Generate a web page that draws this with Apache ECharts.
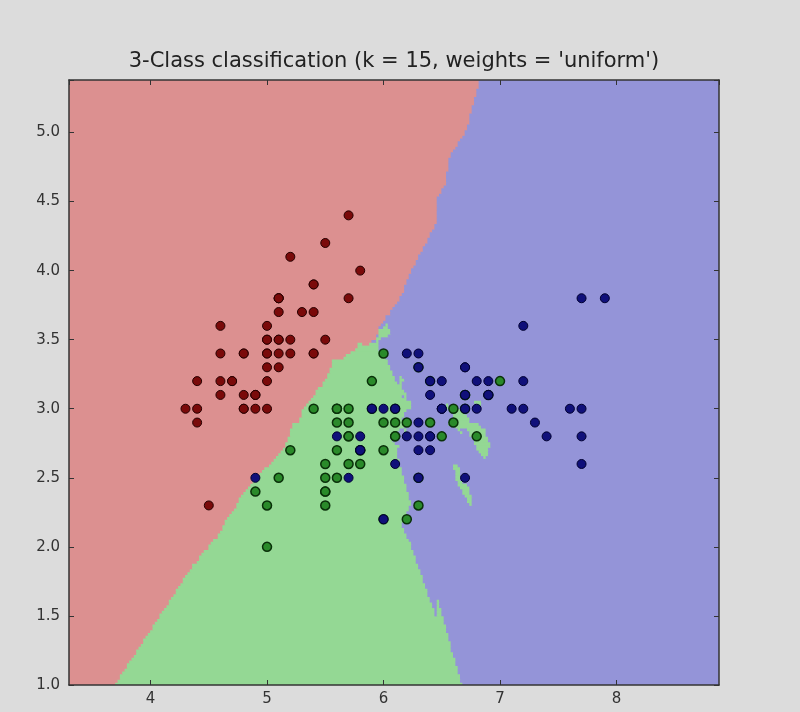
<!DOCTYPE html>
<html>
<head>
<meta charset="utf-8">
<script src="https://cdn.jsdelivr.net/npm/echarts@6/dist/echarts.min.js"></script>
<style>
html,body{margin:0;padding:0;background:#dcdcdc;}
#chart{width:800px;height:712px;}
</style>
</head>
<body>
<div id="chart"></div>
<script>
// ---- data (iris: sepal length, sepal width) ----
const titleText = "3-Class classification (k = 15, weights = 'uniform')";
const setosa = [[5.1,3.5],[4.9,3.0],[4.7,3.2],[4.6,3.1],[5.0,3.6],[5.4,3.9],[4.6,3.4],[5.0,3.4],[4.4,2.9],[4.9,3.1],
[5.4,3.7],[4.8,3.4],[4.8,3.0],[4.3,3.0],[5.8,4.0],[5.7,4.4],[5.4,3.9],[5.1,3.5],[5.7,3.8],[5.1,3.8],
[5.4,3.4],[5.1,3.7],[4.6,3.6],[5.1,3.3],[4.8,3.4],[5.0,3.0],[5.0,3.4],[5.2,3.5],[5.2,3.4],[4.7,3.2],
[4.8,3.1],[5.4,3.4],[5.2,4.1],[5.5,4.2],[4.9,3.1],[5.0,3.2],[5.5,3.5],[4.9,3.1],[4.4,3.0],[5.1,3.4],
[5.0,3.5],[4.5,2.3],[4.4,3.2],[5.0,3.5],[5.1,3.8],[4.8,3.0],[5.1,3.8],[4.6,3.2],[5.3,3.7],[5.0,3.3]];
const versicolor = [[7.0,3.2],[6.4,3.2],[6.9,3.1],[5.5,2.3],[6.5,2.8],[5.7,2.8],[6.3,3.3],[4.9,2.4],[6.6,2.9],[5.2,2.7],
[5.0,2.0],[5.9,3.0],[6.0,2.2],[6.1,2.9],[5.6,2.9],[6.7,3.1],[5.6,3.0],[5.8,2.7],[6.2,2.2],[5.6,2.5],
[5.9,3.2],[6.1,2.8],[6.3,2.5],[6.1,2.8],[6.4,2.9],[6.6,3.0],[6.8,2.8],[6.7,3.0],[6.0,2.9],[5.7,2.6],
[5.5,2.4],[5.5,2.4],[5.8,2.7],[6.0,2.7],[5.4,3.0],[6.0,3.4],[6.7,3.1],[6.3,2.3],[5.6,3.0],[5.5,2.5],
[5.5,2.6],[6.1,3.0],[5.8,2.6],[5.0,2.3],[5.6,2.7],[5.7,3.0],[5.7,2.9],[6.2,2.9],[5.1,2.5],[5.7,2.8]];
const virginica = [[6.3,3.3],[5.8,2.7],[7.1,3.0],[6.3,2.9],[6.5,3.0],[7.6,3.0],[4.9,2.5],[7.3,2.9],[6.7,2.5],[7.2,3.6],
[6.5,3.2],[6.4,2.7],[6.8,3.0],[5.7,2.5],[5.8,2.8],[6.4,3.2],[6.5,3.0],[7.7,3.8],[7.7,2.6],[6.0,2.2],
[6.9,3.2],[5.6,2.8],[7.7,2.8],[6.3,2.7],[6.7,3.3],[7.2,3.2],[6.2,2.8],[6.1,3.0],[6.4,2.8],[7.2,3.0],
[7.4,2.8],[7.9,3.8],[6.4,2.8],[6.3,2.8],[6.1,2.6],[7.7,3.0],[6.3,3.4],[6.4,3.1],[6.0,3.0],[6.9,3.1],
[6.7,3.1],[6.9,3.1],[5.8,2.7],[6.8,3.2],[6.7,3.3],[6.7,3.0],[6.3,2.5],[6.5,3.0],[6.2,3.4],[5.9,3.0]];
const xTickLabels = ['4','5','6','7','8'];
const yTickLabels = ['1.0','1.5','2.0','2.5','3.0','3.5','4.0','4.5','5.0'];
const K = 15;
const meshStep = 0.02;

// ---- k-NN decision surface computed from the data ----
const pts = [], lab = [];
[setosa, versicolor, virginica].forEach((arr, c) => arr.forEach(p => { pts.push(p); lab.push(c); }));
// neighbour search order (equal distances: first visited wins); sample 100 visited before 56
const searchOrder = pts.map((p, i) => i);
searchOrder.splice(searchOrder.indexOf(100), 1);
searchOrder.splice(searchOrder.indexOf(56), 0, 100);
function arange(a, b, h) {
  const n = Math.ceil((b - a) / h);
  const out = [a];
  const d = (a + h) - a;
  for (let i = 1; i < n; i++) out.push(a + i * d);
  return out;
}
const xMin = Math.min(...pts.map(p => p[0])) - 1, xMax = Math.max(...pts.map(p => p[0])) + 1;
const yMin = Math.min(...pts.map(p => p[1])) - 1, yMax = Math.max(...pts.map(p => p[1])) + 1;
const xs = arange(xMin, xMax, meshStep), ys = arange(yMin, yMax, meshStep);
function predict(x, y) {
  const bd = [], bl = [];
  for (const i of searchOrder) {
    const dx = pts[i][0] - x, dy = pts[i][1] - y;
    const d = Math.sqrt(dx * dx + dy * dy);
    if (bd.length < K || d < bd[bd.length - 1]) {
      let pos = bd.length;
      while (pos > 0 && bd[pos - 1] > d) pos--;
      bd.splice(pos, 0, d); bl.splice(pos, 0, lab[i]);
      if (bd.length > K) { bd.pop(); bl.pop(); }
    }
  }
  const cnt = [0, 0, 0];
  bl.forEach(l => cnt[l]++);
  let best = 0;
  for (let c = 1; c < 3; c++) if (cnt[c] > cnt[best]) best = c;
  return best;
}
const cells = [];
for (let j = 0; j < ys.length - 1; j++) {
  let runStart = 0, runCls = predict(xs[0], ys[j]);
  for (let i = 1; i <= xs.length - 1; i++) {
    const c = i < xs.length - 1 ? predict(xs[i], ys[j]) : -1;
    if (c !== runCls) {
      cells.push([xs[runStart], xs[i], ys[j], ys[j + 1], runCls]);
      runStart = i; runCls = c;
    }
  }
}

const lightColors = ['#dc9090', '#94d894', '#9494d8'];

const chart = echarts.init(document.getElementById('chart'));
const axisColor = '#333';
function xLabelFmt(v) { const s = String(Math.round(v * 1000) / 1000); return xTickLabels.includes(s) ? s : ''; }
function yLabelFmt(v) { const s = (Math.round(v * 1000) / 1000).toFixed(1); return (yTickLabels.includes(s) && Math.abs(v - parseFloat(s)) < 1e-6) ? s : ''; }
const commonAxis = {
  type: 'value', z: 10, splitLine: { show: false },
  axisLine: { show: true, onZero: false, lineStyle: { color: axisColor, width: 1.5 } },
  axisTick: { show: true, inside: true, length: 5, lineStyle: { color: axisColor, width: 1 } }
};
chart.setOption({
  animation: false,
  backgroundColor: '#dcdcdc',
  title: {
    text: titleText, left: 394, top: 51, textAlign: 'center', padding: 0,
    textStyle: { fontFamily: 'DejaVu Sans', fontSize: 21, fontWeight: 'normal', color: '#222' }
  },
  grid: { left: 69, right: 81, top: 80, bottom: 27, containLabel: false },
  xAxis: [
    Object.assign({}, commonAxis, { position: 'bottom', min: xs[0], max: xs[xs.length - 1],
      axisLabel: { show: true, formatter: xLabelFmt, margin: 7, color: '#333', fontFamily: 'DejaVu Sans', fontSize: 15, showMinLabel: false, showMaxLabel: false } }),
    Object.assign({}, commonAxis, { position: 'top', min: xs[0], max: xs[xs.length - 1], axisLabel: { show: false } })
  ],
  yAxis: [
    Object.assign({}, commonAxis, { position: 'left', min: ys[0], max: ys[ys.length - 1], interval: 0.5,
      axisLabel: { show: true, formatter: yLabelFmt, margin: 9, color: '#333', fontFamily: 'DejaVu Sans', fontSize: 15 } }),
    Object.assign({}, commonAxis, { position: 'right', min: ys[0], max: ys[ys.length - 1], interval: 0.5, axisLabel: { show: false } })
  ],
  series: [
    {
      type: 'custom', z: 1, silent: true, clip: true,
      encode: { x: [0, 1], y: [2, 3] },
      data: cells,
      renderItem: function (params, api) {
        const p0 = api.coord([api.value(0), api.value(3)]);
        const p1 = api.coord([api.value(1), api.value(2)]);
        return {
          type: 'rect',
          shape: { x: p0[0] - 0.4, y: p0[1] - 0.4, width: p1[0] - p0[0] + 0.8, height: p1[1] - p0[1] + 0.8 },
          style: { fill: lightColors[api.value(4)] }
        };
      }
    },
    { type: 'scatter', z: 3, data: setosa, symbolSize: 9,
      itemStyle: { color: '#7a0a0a', borderColor: '#260000', borderWidth: 1, opacity: 1 } },
    { type: 'scatter', z: 3, data: versicolor, symbolSize: 9,
      itemStyle: { color: '#2a8a2a', borderColor: '#093009', borderWidth: 1.5, opacity: 1 } },
    { type: 'scatter', z: 3, data: virginica, symbolSize: 9,
      itemStyle: { color: '#10107a', borderColor: '#000030', borderWidth: 1, opacity: 1 } }
  ]
});
</script>
</body>
</html>
